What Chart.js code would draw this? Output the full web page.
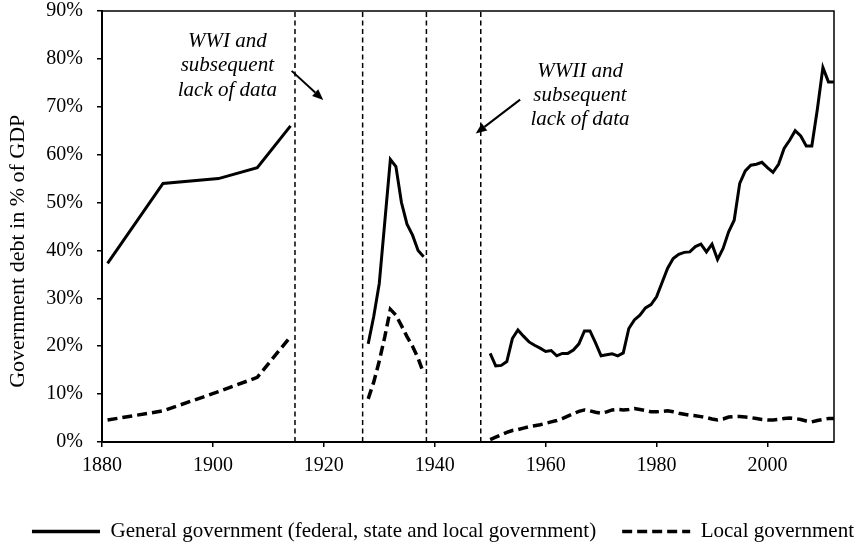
<!DOCTYPE html>
<html>
<head>
<meta charset="utf-8">
<script src="https://cdn.jsdelivr.net/npm/chart.js@4.4.1/dist/chart.umd.min.js"></script>
<style>
html,body{margin:0;padding:0;background:#fff;}
#wrap{width:856px;height:545px;position:relative;}
</style>
</head>
<body>
<div id="wrap"><canvas id="c"></canvas></div>
<script>
// ---- data ----
const xTickValues = [1880, 1900, 1920, 1940, 1960, 1980, 2000];
const yTickValues = [0, 10, 20, 30, 40, 50, 60, 70, 80, 90];

const seriesNames = ["General government (federal, state and local government)", "Local government"];

const yearsPre = [1881, 1891, 1901, 1908, 1914];
const generalPre = [37.3, 54.0, 55.0, 57.3, 66.0];
const localPre = [4.6, 6.5, 10.5, 13.5, 22.0];

const yearsInter = [1928, 1929, 1930, 1931, 1932, 1933, 1934, 1935, 1936, 1937, 1938];
const generalInter = [20.5, 26.2, 33.1, 46.0, 59.0, 57.5, 50.0, 45.5, 43.2, 40.0, 38.7];
const localInter = [9.0, 12.5, 16.9, 22.0, 27.7, 26.5, 24.3, 22.0, 20.0, 17.5, 14.3];

const yearsPost = [1950, 1951, 1952, 1953, 1954, 1955, 1956, 1957, 1958, 1959,
  1960, 1961, 1962, 1963, 1964, 1965, 1966, 1967, 1968, 1969,
  1970, 1971, 1972, 1973, 1974, 1975, 1976, 1977, 1978, 1979,
  1980, 1981, 1982, 1983, 1984, 1985, 1986, 1987, 1988, 1989,
  1990, 1991, 1992, 1993, 1994, 1995, 1996, 1997, 1998, 1999,
  2000, 2001, 2002, 2003, 2004, 2005, 2006, 2007, 2008, 2009,
  2010, 2011, 2012];
const generalPost = [18.5, 15.9, 16.0, 16.8, 21.6, 23.4, 22.1, 20.9, 20.2, 19.6,
  18.9, 19.1, 18.0, 18.5, 18.5, 19.2, 20.5, 23.2, 23.2, 20.7,
  18.0, 18.2, 18.4, 18.0, 18.6, 23.7, 25.5, 26.5, 28.0, 28.7,
  30.3, 33.3, 36.3, 38.3, 39.2, 39.6, 39.7, 40.8, 41.3, 39.7,
  41.3, 38.1, 40.4, 43.9, 46.3, 54.0, 56.6, 57.8, 58.0, 58.4,
  57.3, 56.3, 58.0, 61.3, 63.0, 65.0, 63.9, 61.8, 61.8, 69.5,
  78.2, 75.2, 75.2];
const localPost = [0.5, 1.0, 1.5, 2.0, 2.4, 2.6, 2.9, 3.2, 3.4, 3.6,
  3.9, 4.2, 4.5, 4.9, 5.4, 5.9, 6.4, 6.7, 6.5, 6.2,
  6.0, 6.3, 6.7, 6.8, 6.7, 6.8, 7.0, 6.8, 6.6, 6.3,
  6.3, 6.4, 6.5, 6.3, 6.0, 5.8, 5.6, 5.5, 5.3, 5.1,
  4.8, 4.6, 4.8, 5.2, 5.3, 5.3, 5.2, 5.1, 4.9, 4.7,
  4.6, 4.6, 4.7, 4.9, 5.0, 4.9, 4.7, 4.4, 4.2, 4.5,
  4.7, 4.9, 4.9];

// break years (no data) and the dashed period markers
const gapYears = [1921, 1944];
const markerYears = [1914.8, 1927.0, 1938.5, 1948.3];

const wwiText = ["WWI and", "subsequent", "lack of data"];
const wwiiText = ["WWII and", "subsequent", "lack of data"];

// ---- build datasets ----
function seg(years, vals) { return years.map((yr, i) => ({x: yr, y: vals[i]})); }
function joined(a, b, c) {
  return [...a, {x: gapYears[0], y: null}, ...b, {x: gapYears[1], y: null}, ...c];
}
const generalData = joined(seg(yearsPre, generalPre), seg(yearsInter, generalInter), seg(yearsPost, generalPost));
const localData = joined(seg(yearsPre, localPre), seg(yearsInter, localInter), seg(yearsPost, localPost));

const FONT = "'Liberation Serif', 'Times New Roman', serif";
Chart.defaults.font.family = FONT;
Chart.defaults.color = '#000';

const markerSets = markerYears.map(yr => ({
  label: 'marker',
  data: [{x: yr, y: yTickValues[0]}, {x: yr, y: yTickValues[yTickValues.length - 1]}],
  borderColor: '#000', borderWidth: 1.5, borderDash: [5, 3.5],
  pointRadius: 0, fill: false, order: 5
}));

function arrow(ctx, x1, y1, x2, y2) {
  const ang = Math.atan2(y2 - y1, x2 - x1);
  const hl = 11, hw = 4.5;
  const bx = x2 - hl * Math.cos(ang), by = y2 - hl * Math.sin(ang);
  ctx.beginPath();
  ctx.moveTo(x1, y1); ctx.lineTo(bx, by);
  ctx.lineWidth = 2; ctx.strokeStyle = '#000'; ctx.stroke();
  ctx.beginPath();
  ctx.moveTo(x2, y2);
  ctx.lineTo(bx + hw * Math.sin(ang), by - hw * Math.cos(ang));
  ctx.lineTo(bx - hw * Math.sin(ang), by + hw * Math.cos(ang));
  ctx.closePath(); ctx.fillStyle = '#000'; ctx.fill();
}

const decor = {
  id: 'decor',
  afterDatasetsDraw(chart) {
    const {ctx, chartArea: a, scales: {x, y}} = chart;
    ctx.save();
    // frame
    ctx.lineWidth = 1.5; ctx.strokeStyle = '#000';
    ctx.beginPath();
    ctx.moveTo(a.left, a.top); ctx.lineTo(a.right, a.top); ctx.lineTo(a.right, a.bottom);
    ctx.stroke();
    // annotations
    ctx.font = 'italic 21px ' + FONT;
    ctx.fillStyle = '#000'; ctx.textAlign = 'center'; ctx.textBaseline = 'middle';
    wwiText.forEach((t, i) => ctx.fillText(t, x.getPixelForValue(1902.6), y.getPixelForValue(83.6 - i * 5.05)));
    wwiiText.forEach((t, i) => ctx.fillText(t, x.getPixelForValue(1966.2), y.getPixelForValue(77.3 - i * 5.0)));
    arrow(ctx, x.getPixelForValue(1914.2), y.getPixelForValue(77.5), x.getPixelForValue(1919.9), y.getPixelForValue(71.4));
    arrow(ctx, x.getPixelForValue(1955.4), y.getPixelForValue(71.5), x.getPixelForValue(1947.4), y.getPixelForValue(64.4));
    ctx.restore();
  }
};

new Chart(document.getElementById('c'), {
  type: 'line',
  data: {
    datasets: [
      {label: seriesNames[0], data: generalData, borderColor: '#000', borderWidth: 3, pointRadius: 0, spanGaps: false, fill: false, order: 1},
      {label: seriesNames[1], data: localData, borderColor: '#000', borderWidth: 3.5, borderDash: [10, 5], pointRadius: 0, spanGaps: false, fill: false, order: 2},
      ...markerSets
    ]
  },
  options: {
    responsive: true, maintainAspectRatio: false, animation: false,
    layout: {padding: {left: 0, right: -30, top: 0, bottom: -7}},
    plugins: {
      tooltip: {enabled: false},
      legend: {
        position: 'bottom',
        labels: {
          filter: (item) => item.datasetIndex < 2,
          generateLabels: (chart) => Chart.defaults.plugins.legend.labels.generateLabels(chart).map(l => {
            const ds = chart.data.datasets[l.datasetIndex];
            return Object.assign(l, {lineDash: ds.borderDash || [], lineWidth: 3.5, strokeStyle: '#000', fillStyle: '#000'});
          }),
          usePointStyle: true, pointStyle: 'line', pointStyleWidth: 68,
          padding: 26, color: '#000', font: {size: 21, family: FONT}
        }
      }
    },
    scales: {
      x: {
        type: 'linear', min: 1880, max: 2012,
        afterBuildTicks: (s) => { s.ticks = xTickValues.map(v => ({value: v})); },
        afterFit: (s) => { s.height = 53; },
        grid: {display: true, drawOnChartArea: false, drawTicks: true, tickLength: 5, color: '#000', lineWidth: 1.5},
        border: {display: true, color: '#000', width: 2},
        ticks: {font: {size: 20}, color: '#000', padding: 7, maxRotation: 0, callback: v => String(v)}
      },
      y: {
        type: 'linear', min: 0, max: 90,
        afterBuildTicks: (s) => { s.ticks = yTickValues.map(v => ({value: v})); },
        afterFit: (s) => { s.width = 102; s.paddingTop = 11; s.paddingBottom = 11; },
        grid: {display: true, drawOnChartArea: false, drawTicks: true, tickLength: 5, color: '#000', lineWidth: 1.5},
        border: {display: true, color: '#000', width: 2},
        ticks: {font: {size: 20}, color: '#000', padding: 14, callback: v => v + '%'},
        title: {display: true, text: 'Government debt in % of GDP         ', font: {size: 22}, color: '#000', padding: {top: 5, bottom: 0}}
      },
      y2: {
        position: 'right', display: true,
        grid: {display: false, drawTicks: false}, border: {display: false},
        ticks: {display: false},
        afterFit: (s) => { s.width = 52; s.paddingTop = 0; s.paddingBottom = 0; }
      }
    }
  },
  plugins: [decor]
});
</script>
</body>
</html>
